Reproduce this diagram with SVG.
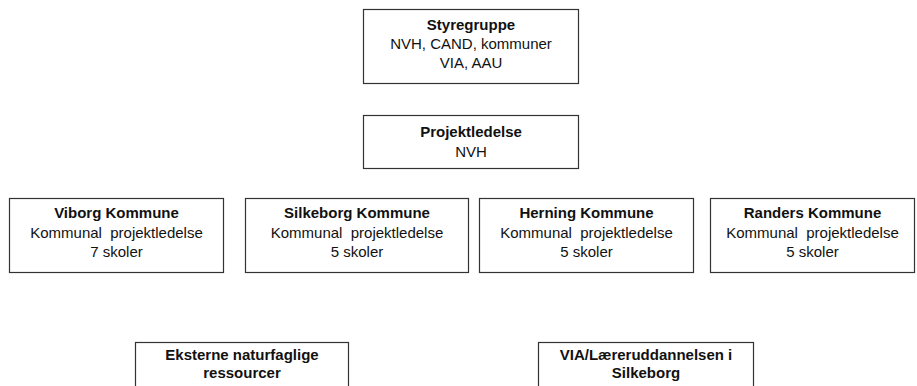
<svg xmlns="http://www.w3.org/2000/svg" width="917" height="386" viewBox="0 0 917 386">
<style>
.n{fill:#fff;stroke:#333;stroke-width:1.2}
text{font-family:"Liberation Sans",Arial,sans-serif;font-size:15px;fill:#111;text-anchor:middle}
.b{font-weight:bold}
</style>
<rect width="917" height="386" fill="#fff"/>
<g id="styregruppe"><rect class="n" x="363.5" y="9.5" width="215" height="74"/>
<text class="b" x="471" y="30">Styregruppe</text>
<text x="471" y="49">NVH, CAND, kommuner</text>
<text x="471" y="68">VIA, AAU</text></g>
<g id="projektledelse"><rect class="n" x="363.5" y="115.5" width="215" height="53"/>
<text class="b" x="471" y="137">Projektledelse</text>
<text x="471" y="157">NVH</text></g>
<g id="viborg"><rect class="n" x="9.5" y="198.5" width="214" height="74"/>
<text class="b" x="116.5" y="218">Viborg Kommune</text>
<text x="116.5" y="238" xml:space="preserve">Kommunal  projektledelse</text>
<text x="116.5" y="257">7 skoler</text></g>
<g id="silkeborg"><rect class="n" x="245.5" y="198.5" width="223" height="74"/>
<text class="b" x="357" y="218">Silkeborg Kommune</text>
<text x="357" y="238" xml:space="preserve">Kommunal  projektledelse</text>
<text x="357" y="257">5 skoler</text></g>
<g id="herning"><rect class="n" x="479.5" y="198.5" width="214" height="74"/>
<text class="b" x="586.5" y="218">Herning Kommune</text>
<text x="586.5" y="238" xml:space="preserve">Kommunal  projektledelse</text>
<text x="586.5" y="257">5 skoler</text></g>
<g id="randers"><rect class="n" x="710.5" y="198.5" width="204" height="74"/>
<text class="b" x="812.5" y="218">Randers Kommune</text>
<text x="812.5" y="238" xml:space="preserve">Kommunal  projektledelse</text>
<text x="812.5" y="257">5 skoler</text></g>
<g id="eksterne"><rect class="n" x="135.5" y="342.5" width="213" height="60"/>
<text class="b" x="242" y="360">Eksterne naturfaglige</text>
<text class="b" x="242" y="378">ressourcer</text></g>
<g id="via"><rect class="n" x="538.5" y="342.5" width="215" height="60"/>
<text class="b" x="646" y="360">VIA/Læreruddannelsen i</text>
<text class="b" x="646" y="378">Silkeborg</text></g>
<g id="connectors"></g>
</svg>
